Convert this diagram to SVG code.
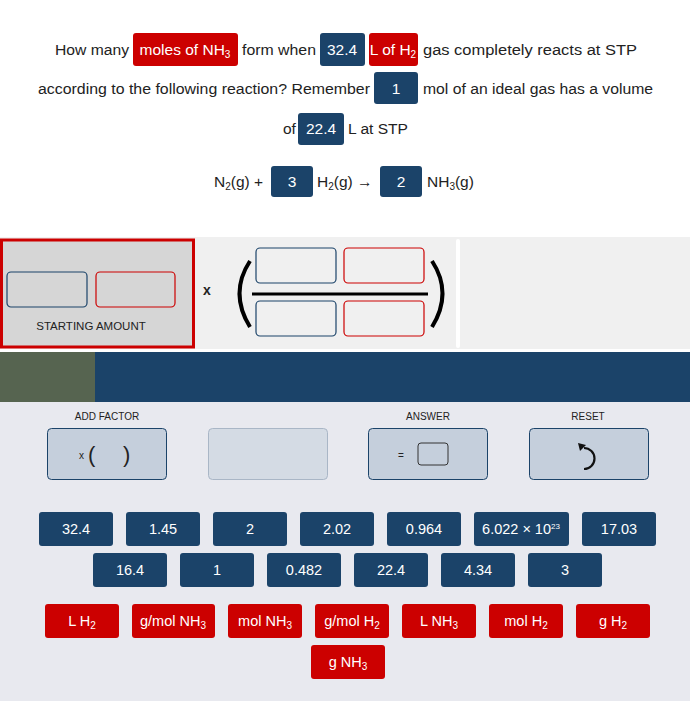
<svg xmlns="http://www.w3.org/2000/svg" width="690" height="701" viewBox="0 0 690 701">
<style>
text{font-family:"Liberation Sans",Arial,sans-serif;font-size:14.5px;fill:#222}
.q{font-size:15.5px}
.w{fill:#fff;text-anchor:middle}
.b{fill:#1b4369}
.r{fill:#cc0000}
.lbl{font-size:10px;text-anchor:middle;fill:#222}
.ib{fill:none;stroke:#1b4369;stroke-width:1.2}
.ir{fill:none;stroke:#cc0000;stroke-width:1.2}
.tool{fill:#c5cfdc;stroke:#1b4369;stroke-width:1}
</style>
<rect width="690" height="701" fill="#fff"/>
<g id="question">
<text class="q" x="55" y="55" textLength="74" lengthAdjust="spacingAndGlyphs">How many</text>
<rect class="r" x="133" y="33" width="105" height="33" rx="3"/>
<text class="w q" x="185" y="55">moles of NH<tspan font-size="10" dy="3">3</tspan></text>
<text class="q" x="242" y="55" textLength="74" lengthAdjust="spacingAndGlyphs">form when</text>
<rect class="b" x="320" y="33" width="45" height="33" rx="3"/>
<text class="w q" x="342" y="55">32.4</text>
<rect class="r" x="369" y="33" width="49" height="33" rx="3"/>
<text class="w q" x="393" y="55">L of H<tspan font-size="10" dy="3">2</tspan></text>
<text class="q" x="423" y="55" textLength="214" lengthAdjust="spacingAndGlyphs">gas completely reacts at STP</text>
<text class="q" x="38" y="94" textLength="332" lengthAdjust="spacingAndGlyphs">according to the following reaction? Remember</text>
<rect class="b" x="374" y="72" width="44" height="32" rx="3"/>
<text class="w q" x="396" y="94">1</text>
<text class="q" x="423" y="94" textLength="230" lengthAdjust="spacingAndGlyphs">mol of an ideal gas has a volume</text>
<text class="q" x="283" y="134">of</text>
<rect class="b" x="298" y="113" width="46" height="32" rx="3"/>
<text class="w q" x="321" y="134">22.4</text>
<text class="q" x="348" y="134" textLength="60" lengthAdjust="spacingAndGlyphs">L at STP</text>
<text class="q" x="214" y="187">N<tspan font-size="10" dy="3">2</tspan><tspan dy="-3">(g) +</tspan></text>
<rect class="b" x="271" y="166" width="42" height="31" rx="3"/>
<text class="w q" x="292" y="187">3</text>
<text class="q" x="317" y="187">H<tspan font-size="10" dy="3">2</tspan><tspan dy="-3">(g) →</tspan></text>
<rect class="b" x="380" y="166" width="42" height="31" rx="3"/>
<text class="w q" x="401" y="187">2</text>
<text class="q" x="427" y="187">NH<tspan font-size="10" dy="3">3</tspan><tspan dy="-3">(g)</tspan></text>
</g>
<g id="workspace">
<rect x="0" y="237" width="690" height="112" fill="#f0f0f0"/>
<rect x="456" y="239" width="4" height="109" fill="#fff" rx="2"/>
<rect x="1.5" y="240" width="192" height="107" fill="#d6d6d6" stroke="#cc0000" stroke-width="3"/>
<rect class="ib" x="7" y="272" width="80" height="35" rx="4"/>
<rect class="ir" x="96" y="272" width="79" height="35" rx="4"/>
<text class="lbl" x="91" y="330" style="font-size:11.5px">STARTING AMOUNT</text>
<text x="203" y="295" style="font-size:14px;font-weight:bold">x</text>
<path d="M250 261 Q229 293 250 327" fill="none" stroke="#000" stroke-width="4"/>
<path d="M432 261 Q453 293 432 327" fill="none" stroke="#000" stroke-width="4"/>
<line x1="252" y1="294" x2="428" y2="294" stroke="#000" stroke-width="3"/>
<rect class="ib" x="256" y="248" width="80" height="35" rx="4"/>
<rect class="ir" x="344" y="248" width="80" height="35" rx="4"/>
<rect class="ib" x="256" y="301" width="80" height="35" rx="4"/>
<rect class="ir" x="344" y="301" width="80" height="35" rx="4"/>
</g>
<g id="bar">
<rect x="0" y="352" width="690" height="50" fill="#1b4369"/>
<rect x="0" y="352" width="95" height="50" fill="#566450"/>
<rect x="0" y="402" width="690" height="299" fill="#e8e9ef"/>
</g>
<g id="tools">
<text class="lbl" x="107" y="420">ADD FACTOR</text>
<text class="lbl" x="428" y="420">ANSWER</text>
<text class="lbl" x="588" y="420">RESET</text>
<rect class="tool" x="47.5" y="428.5" width="119" height="51" rx="4"/>
<text x="79" y="459" style="font-size:10px">x</text>
<text x="88" y="462" style="font-size:22px">(</text>
<text x="123" y="462" style="font-size:22px">)</text>
<rect x="208.5" y="428.5" width="119" height="51" rx="4" fill="#d4dbe4" stroke="#a9b6c6"/>
<rect class="tool" x="368.5" y="428.5" width="119" height="51" rx="4"/>
<text x="398" y="459" style="font-size:10px">=</text>
<rect x="418" y="443" width="30" height="22" rx="3" fill="#c5cfdc" stroke="#333" stroke-width="1"/>
<rect class="tool" x="529.5" y="428.5" width="119" height="51" rx="4"/>
<path d="M584 448 A9 9 0 1 1 584 469" fill="none" stroke="#111" stroke-width="2.2"/>
<path d="M578 443 L586 445 L580 451 Z" fill="#111"/>
</g>
<g id="numbers">
<rect class="b" x="39" y="512" width="74" height="34" rx="3"/><text class="w" x="76" y="534">32.4</text>
<rect class="b" x="126" y="512" width="74" height="34" rx="3"/><text class="w" x="163" y="534">1.45</text>
<rect class="b" x="213" y="512" width="74" height="34" rx="3"/><text class="w" x="250" y="534">2</text>
<rect class="b" x="300" y="512" width="74" height="34" rx="3"/><text class="w" x="337" y="534">2.02</text>
<rect class="b" x="387" y="512" width="74" height="34" rx="3"/><text class="w" x="424" y="534">0.964</text>
<rect class="b" x="474" y="512" width="95" height="34" rx="3"/><text class="w" x="521" y="534">6.022 × 10<tspan font-size="8" dy="-5">23</tspan></text>
<rect class="b" x="582" y="512" width="74" height="34" rx="3"/><text class="w" x="619" y="534">17.03</text>
<rect class="b" x="93" y="553" width="74" height="34" rx="3"/><text class="w" x="130" y="575">16.4</text>
<rect class="b" x="180" y="553" width="74" height="34" rx="3"/><text class="w" x="217" y="575">1</text>
<rect class="b" x="267" y="553" width="74" height="34" rx="3"/><text class="w" x="304" y="575">0.482</text>
<rect class="b" x="354" y="553" width="74" height="34" rx="3"/><text class="w" x="391" y="575">22.4</text>
<rect class="b" x="441" y="553" width="74" height="34" rx="3"/><text class="w" x="478" y="575">4.34</text>
<rect class="b" x="528" y="553" width="74" height="34" rx="3"/><text class="w" x="565" y="575">3</text>
</g>
<g id="units">
<rect class="r" x="45" y="604" width="74" height="34" rx="3"/><text class="w" x="82" y="626">L H<tspan font-size="10" dy="3">2</tspan></text>
<rect class="r" x="132" y="604" width="83" height="34" rx="3"/><text class="w" x="173" y="626">g/mol NH<tspan font-size="10" dy="3">3</tspan></text>
<rect class="r" x="228" y="604" width="74" height="34" rx="3"/><text class="w" x="265" y="626">mol NH<tspan font-size="10" dy="3">3</tspan></text>
<rect class="r" x="315" y="604" width="74" height="34" rx="3"/><text class="w" x="352" y="626">g/mol H<tspan font-size="10" dy="3">2</tspan></text>
<rect class="r" x="402" y="604" width="74" height="34" rx="3"/><text class="w" x="439" y="626">L NH<tspan font-size="10" dy="3">3</tspan></text>
<rect class="r" x="489" y="604" width="74" height="34" rx="3"/><text class="w" x="526" y="626">mol H<tspan font-size="10" dy="3">2</tspan></text>
<rect class="r" x="576" y="604" width="74" height="34" rx="3"/><text class="w" x="613" y="626">g H<tspan font-size="10" dy="3">2</tspan></text>
<rect class="r" x="311" y="645" width="74" height="34" rx="3"/><text class="w" x="348" y="667">g NH<tspan font-size="10" dy="3">3</tspan></text>
</g>
</svg>
